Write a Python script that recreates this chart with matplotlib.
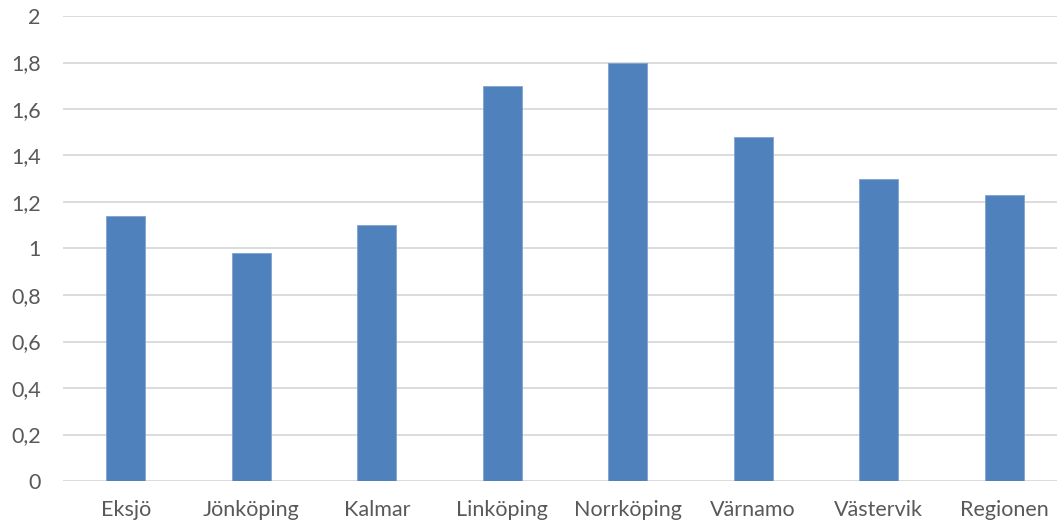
import matplotlib
matplotlib.use("Agg")
import matplotlib.pyplot as plt
from matplotlib.ticker import FuncFormatter, MultipleLocator

categories = ["Eksjö", "Jönköping", "Kalmar", "Linköping", "Norrköping", "Värnamo", "Västervik", "Regionen"]
values = [1.14, 0.98, 1.10, 1.70, 1.80, 1.48, 1.30, 1.23]

plt.rcParams['font.family'] = ['Lato', 'DejaVu Sans']

fig = plt.figure(figsize=(10.57, 5.24), dpi=100)
W, H = 1057, 524
left, right, top, bottom = 63, 1067, 16, 481
ax = fig.add_axes([left / W, 1 - bottom / H, (right - left) / W, (bottom - top) / H])

x = range(len(categories))
ax.bar(x, values, width=0.31, color="#4F81BD", edgecolor="#7FA3D1", linewidth=0.6, zorder=3)

ax.set_xlim(-0.5, len(categories) - 0.5)
ax.set_ylim(0, 2)
ax.yaxis.set_major_locator(MultipleLocator(0.2))
ax.yaxis.set_major_formatter(FuncFormatter(lambda v, p: ("%g" % round(v, 1)).replace(".", ",")))
ax.grid(axis="y", color="#D9D9D9", linewidth=1.3, zorder=0)
ax.set_axisbelow(True)
for s in ax.spines.values():
    s.set_visible(False)
ax.tick_params(axis="both", length=0, labelsize=15.5, colors="#595959")
ax.tick_params(axis="y", pad=16)
ax.tick_params(axis="x", pad=14)
ax.set_xticks(list(x))
ax.set_xticklabels(categories)

fig.savefig("out.png", dpi=100)
